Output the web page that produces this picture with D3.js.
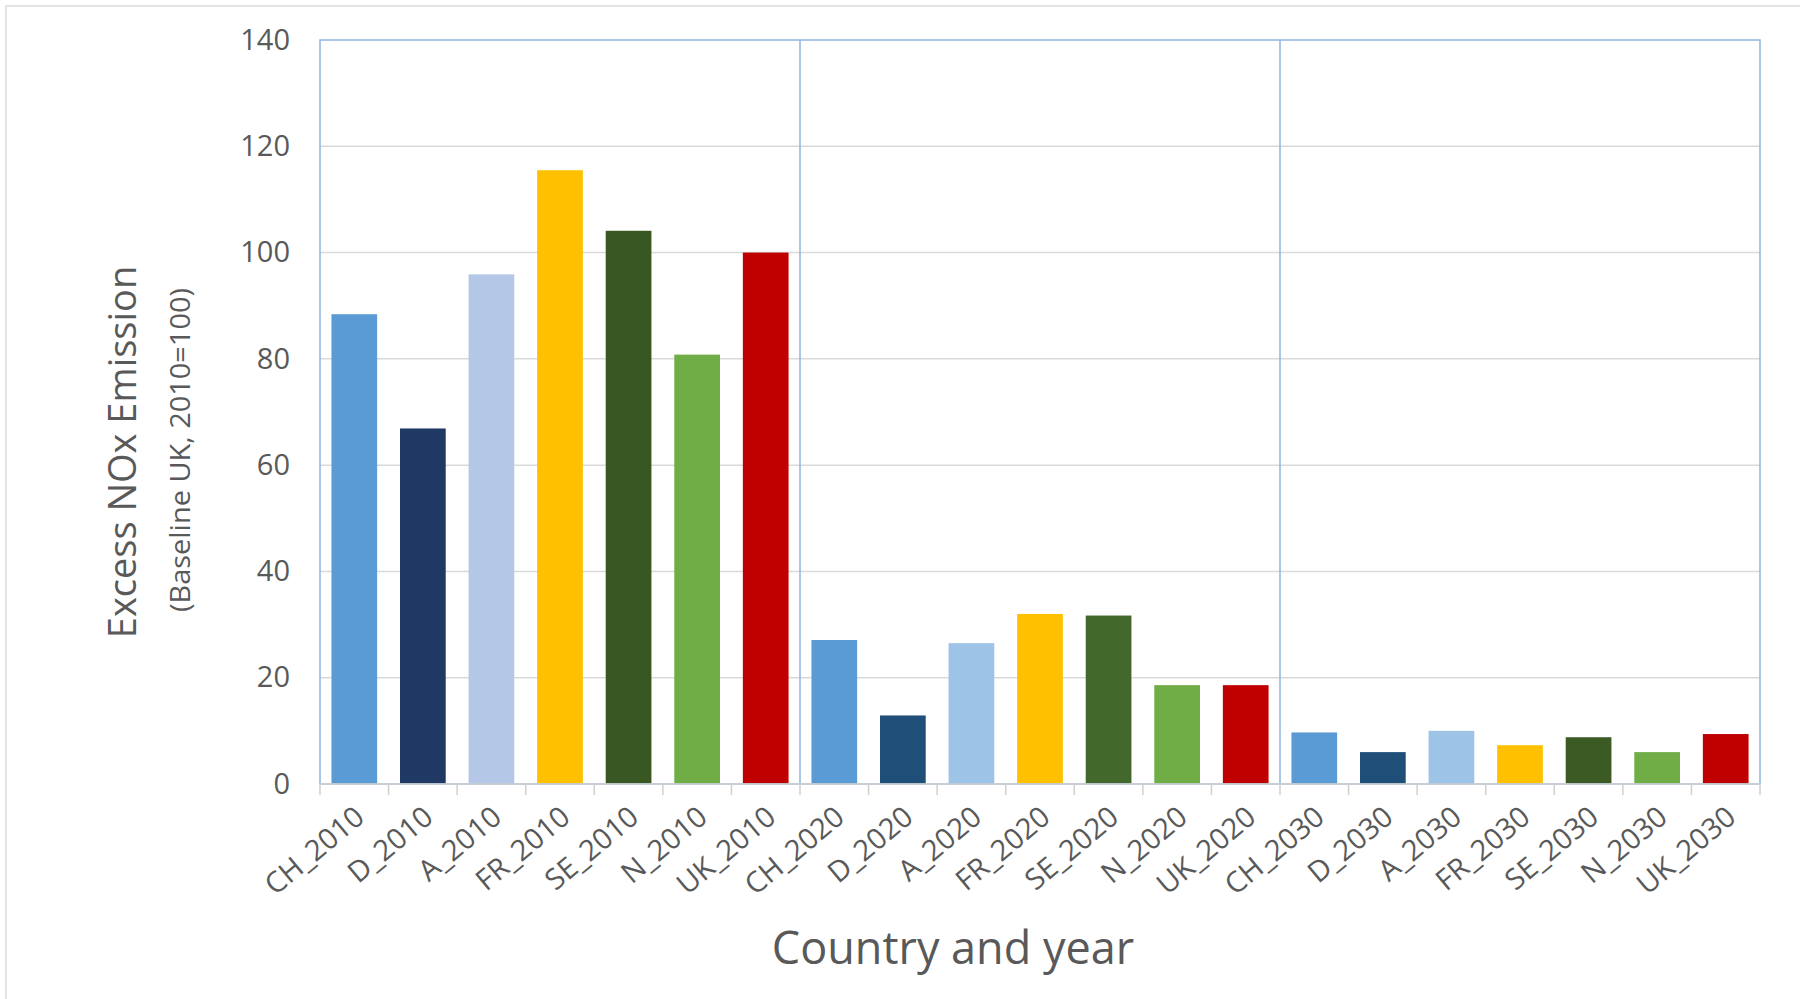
<!DOCTYPE html>
<html>
<head>
<meta charset="utf-8">
<script src="https://cdn.jsdelivr.net/npm/d3@7"></script>
<style>
  html, body { margin: 0; padding: 0; background: #fff; }
  svg { display: block; font-family: 'Open Sans', 'Noto Sans', sans-serif; }
</style>
</head>
<body>
<svg id="chart" width="1800" height="999"></svg>
<script>
// ── DATA ──────────────────────────────────────────────────────────────────────

const countries = ['CH', 'D', 'A', 'FR', 'SE', 'N', 'UK'];
const years     = ['2010', '2020', '2030'];
const categories = years.flatMap(y => countries.map(c => `${c}_${y}`));

const values2010 = [88.4, 66.9, 95.9, 115.5, 104.1, 80.8, 100.0];
const values2020 = [27.1, 12.9, 26.5, 32.0, 31.7, 18.6, 18.6];
const values2030 = [9.7, 6.0, 10.0, 7.3, 8.8, 6.0, 9.4];
const values = [...values2010, ...values2020, ...values2030];

const yTicks = [0, 20, 40, 60, 80, 100, 120, 140];

// bar colours, same order as categories
const colors2010 = ['#5b9bd5', '#203864', '#b4c7e7', '#ffc000', '#385723', '#70ad47', '#c00000'];
const colors2020 = ['#5b9bd5', '#1f4e79', '#9dc3e6', '#ffc000', '#43682b', '#70ad47', '#c00000'];
const colors2030 = ['#5b9bd5', '#1f4e79', '#9dc3e6', '#ffc000', '#3b5a24', '#70ad47', '#c00000'];
const barColors = [...colors2010, ...colors2020, ...colors2030];

// ── LAYOUT ────────────────────────────────────────────────────────────────────

const W = 1800, H = 999;
const plot = { left: 320, right: 1760, top: 40, bottom: 784 };
const TEXT = '#595959';
const GRID = '#d9d9d9';
const FRAME = '#8fb4de';

const svg = d3.select('#chart');

const x = d3.scaleBand()
  .domain(categories)
  .range([plot.left, plot.right])
  .padding(0);

const y = d3.scaleLinear()
  .domain([0, 140])
  .range([plot.bottom, plot.top]);

const barW = x.bandwidth() / 1.5;

// outer chart-area border (only top/left visible in the crop)
svg.append('rect')
  .attr('x', 6).attr('y', 6)
  .attr('width', W + 20).attr('height', H + 20)
  .attr('fill', '#fff')
  .attr('stroke', '#dcdcdc')
  .attr('stroke-width', 1.5);

// ── GRID ──────────────────────────────────────────────────────────────────────

svg.append('g')
  .selectAll('line')
  .data(yTicks.filter(t => t > 0 && t < 140))
  .join('line')
  .attr('x1', plot.left).attr('x2', plot.right)
  .attr('y1', d => y(d)).attr('y2', d => y(d))
  .attr('stroke', GRID)
  .attr('stroke-width', 1.5);

// ── BARS ──────────────────────────────────────────────────────────────────────

svg.append('g')
  .selectAll('rect')
  .data(categories)
  .join('rect')
  .attr('x', d => x(d) + (x.bandwidth() - barW) / 2)
  .attr('y', (d, i) => y(values[i]))
  .attr('width', barW)
  .attr('height', (d, i) => y(0) - y(values[i]))
  .attr('fill', (d, i) => barColors[i]);

// ── FRAME + GROUP DIVIDERS ───────────────────────────────────────────────────

svg.append('rect')
  .attr('x', plot.left).attr('y', plot.top)
  .attr('width', plot.right - plot.left)
  .attr('height', plot.bottom - plot.top)
  .attr('fill', 'none')
  .attr('stroke', FRAME)
  .attr('stroke-width', 1.5);

const dividers = years.slice(1).map(yr => x(`CH_${yr}`));
svg.append('g')
  .selectAll('line')
  .data(dividers)
  .join('line')
  .attr('x1', d => d).attr('x2', d => d)
  .attr('y1', plot.top).attr('y2', plot.bottom)
  .attr('stroke', FRAME)
  .attr('stroke-width', 1.5);

// ── AXES ──────────────────────────────────────────────────────────────────────

const yAxis = svg.append('g')
  .attr('transform', `translate(${plot.left},0)`)
  .call(d3.axisLeft(y).tickValues(yTicks).tickSize(0).tickPadding(30));
yAxis.select('.domain').remove();
yAxis.selectAll('text')
  .attr('fill', TEXT)
  .attr('font-size', 29)
  .attr('font-family', "'Open Sans', sans-serif");

// x baseline + ticks at category boundaries
svg.append('line')
  .attr('x1', plot.left).attr('x2', plot.right)
  .attr('y1', plot.bottom).attr('y2', plot.bottom)
  .attr('stroke', '#d0d0d0')
  .attr('stroke-width', 1.5);

const bounds = categories.map(c => x(c)).concat([plot.right]);
svg.append('g')
  .selectAll('line')
  .data(bounds)
  .join('line')
  .attr('x1', d => d).attr('x2', d => d)
  .attr('y1', plot.bottom).attr('y2', plot.bottom + 11)
  .attr('stroke', '#cfcfcf')
  .attr('stroke-width', 1.5);

svg.append('g')
  .selectAll('text')
  .data(categories)
  .join('text')
  .attr('transform', d => `translate(${x(d) + x.bandwidth() / 2 + 12},${plot.bottom + 36}) rotate(-40)`)
  .attr('text-anchor', 'end')
  .attr('fill', TEXT)
  .attr('font-size', 29)
  .text(d => d);

// ── TITLES ────────────────────────────────────────────────────────────────────

svg.append('text')
  .attr('transform', 'translate(136,452) rotate(-90)')
  .attr('text-anchor', 'middle')
  .attr('fill', TEXT)
  .attr('font-size', 38)
  .text('Excess NOx Emission');

svg.append('text')
  .attr('transform', 'translate(190,450) rotate(-90)')
  .attr('text-anchor', 'middle')
  .attr('fill', TEXT)
  .attr('font-size', 27)
  .attr('textLength', 324)
  .attr('lengthAdjust', 'spacingAndGlyphs')
  .text('(Baseline UK, 2010=100)');

svg.append('text')
  .attr('x', 953).attr('y', 964)
  .attr('text-anchor', 'middle')
  .attr('fill', TEXT)
  .attr('font-size', 45)
  .text('Country and year');
</script>
</body>
</html>
